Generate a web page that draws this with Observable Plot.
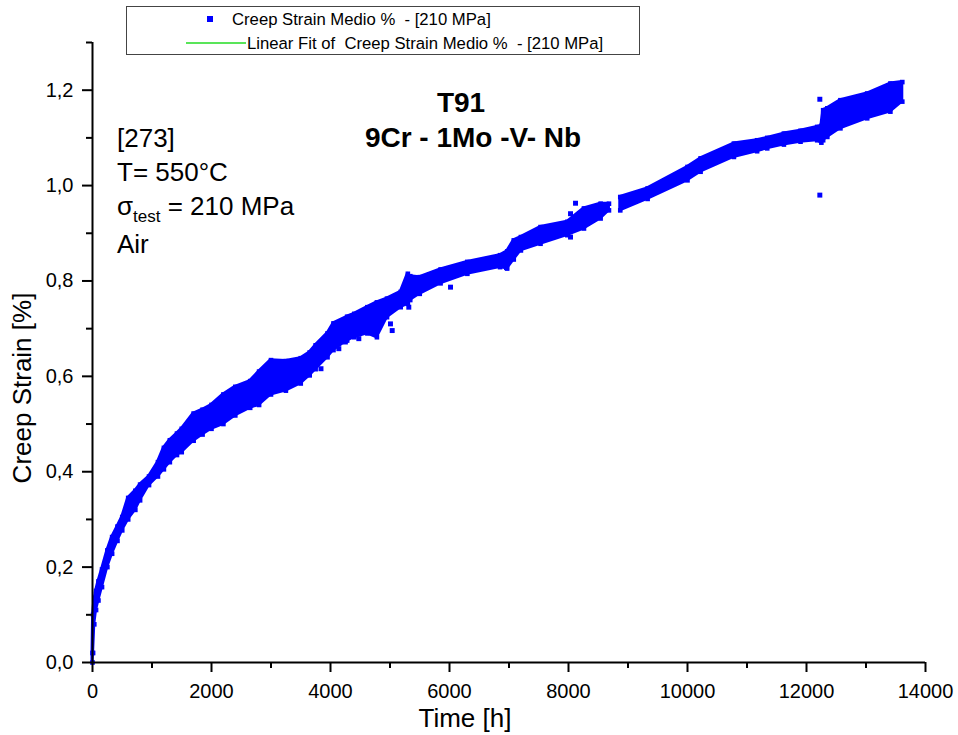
<!DOCTYPE html>
<html>
<head>
<meta charset="utf-8">
<script src="https://cdn.jsdelivr.net/npm/d3@7"></script>
<script src="https://cdn.jsdelivr.net/npm/@observablehq/plot@0.6"></script>
<style>
  html, body { margin: 0; padding: 0; background: white; }
  svg text { white-space: pre; }
</style>
</head>
<body>
<div id="chart"></div>
<script>
const times = [0, 10, 30, 60, 100, 160, 250, 330, 420, 500, 600, 720, 800, 950, 1100, 1200, 1300, 1420, 1500, 1700, 1850, 2000, 2200, 2400, 2650, 2800, 3000, 3250, 3500, 3650, 3750, 3950, 4050, 4280, 4400, 4620, 4780, 4950, 5180, 5300, 5340, 5500, 5850, 6300, 6850, 6970, 7080, 7200, 7530, 7980, 8260, 8540, 8680, 8780, 8870, 9330, 10000, 10220, 10780, 11170, 11340, 11620, 11900, 12180, 12250, 12280, 12350, 12570, 13020, 13410, 13610];
const lower = [0, 0.02, 0.08, 0.11, 0.13, 0.158, 0.20, 0.228, 0.255, 0.277, 0.30, 0.32, 0.34, 0.372, 0.39, 0.405, 0.42, 0.435, 0.441, 0.465, 0.478, 0.49, 0.50, 0.518, 0.534, 0.54, 0.562, 0.57, 0.585, 0.602, 0.615, 0.64, 0.655, 0.675, 0.682, 0.69, 0.682, 0.724, 0.745, 0.752, 0.76, 0.773, 0.795, 0.815, 0.829, 0.826, 0.845, 0.864, 0.878, 0.896, 0.91, 0.931, 0.948, null, 0.948, 0.972, 1.011, 1.029, 1.06, 1.072, 1.078, 1.086, 1.092, 1.095, 1.09, 1.095, 1.102, 1.12, 1.141, 1.155, 1.176];
const upper = [0.02, 0.10, 0.13, 0.15, 0.17, 0.195, 0.235, 0.263, 0.285, 0.305, 0.345, 0.36, 0.373, 0.39, 0.42, 0.45, 0.466, 0.48, 0.49, 0.522, 0.53, 0.54, 0.562, 0.578, 0.59, 0.61, 0.634, 0.632, 0.638, 0.65, 0.665, 0.69, 0.711, 0.725, 0.731, 0.745, 0.755, 0.763, 0.777, 0.815, 0.81, 0.808, 0.824, 0.84, 0.854, 0.862, 0.885, 0.892, 0.913, 0.924, 0.952, 0.962, 0.962, null, 0.976, 0.994, 1.039, 1.057, 1.088, 1.095, 1.10, 1.109, 1.115, 1.123, 1.125, 1.158, 1.162, 1.179, 1.193, 1.214, 1.217];

// Isolated points away from the band
const outlierTimes = [3840, 4140, 4250, 4476, 5008, 5037, 5316, 6017, 6958, 8034, 8034, 8118, 12224, 12224];
const outlierStrain = [0.616, 0.658, 0.672, 0.679, 0.710, 0.696, 0.745, 0.787, 0.828, 0.892, 0.941, 0.963, 1.181, 0.980];

const xMajor = [0, 2000, 4000, 6000, 8000, 10000, 12000, 14000];
const xMinor = [1000, 3000, 5000, 7000, 9000, 11000, 13000];
const yMajor = [0, 0.2, 0.4, 0.6, 0.8, 1.0, 1.2];
const yMinor = [0.1, 0.3, 0.5, 0.7, 0.9, 1.1, 1.3];

const band = times.map((t, i) => ({t, lo: lower[i], hi: upper[i]}));
const edges = band.filter(d => d.lo != null).flatMap(d => [{t: d.t, s: d.lo}, {t: d.t, s: d.hi}]);
const outliers = outlierTimes.map((t, i) => ({t, s: outlierStrain[i]}));

const blue = "#0000ff";
const font = "'Liberation Sans', Arial, Helvetica, sans-serif";

const chart = Plot.plot({
  width: 958,
  height: 735,
  marginLeft: 92,
  marginRight: 33,
  marginTop: 42,
  marginBottom: 73,
  style: {background: "white", fontFamily: font, fontSize: "20px", color: "black", overflow: "visible"},
  x: {domain: [0, 14000]},
  y: {domain: [0, 1.3]},
  marks: [
    Plot.areaY(band, {x: "t", y1: "lo", y2: "hi", fill: blue, stroke: blue, strokeWidth: 3, curve: "linear"}),
    Plot.dot(edges, {x: "t", y: "s", symbol: "square", r: 2.6, fill: blue}),
    Plot.dot(outliers, {x: "t", y: "s", symbol: "square", r: 2.8, fill: blue}),
    Plot.ruleX([0], {stroke: "black", strokeWidth: 2}),
    Plot.ruleY([0], {stroke: "black", strokeWidth: 2}),
    Plot.axisX({ticks: xMajor, tickSize: 10, tickPadding: 11, strokeWidth: 2, tickFormat: d => String(d), fontSize: 20, label: null}),
    Plot.axisX({ticks: xMinor, tickSize: 6, strokeWidth: 2, tickFormat: () => "", label: null}),
    Plot.axisY({ticks: yMajor, tickSize: 10, tickPadding: 9, strokeWidth: 2, tickFormat: d => d.toFixed(1).replace(".", ","), fontSize: 20, label: null}),
    Plot.axisY({ticks: yMinor, tickSize: 6, strokeWidth: 2, tickFormat: () => "", label: null})
  ]
});

document.getElementById("chart").appendChild(chart);

const svg = d3.select(chart);
const g = svg.append("g").attr("font-family", font).attr("fill", "black").attr("text-anchor", "start");

// Axis titles
g.append("text").attr("x", 465).attr("y", 727).attr("text-anchor", "middle").attr("font-size", 26).text("Time [h]");
g.append("text").attr("transform", "translate(31,388) rotate(-90)").attr("text-anchor", "middle").attr("font-size", 26).text("Creep Strain [%]");

// Title
g.append("text").attr("x", 461).attr("y", 112).attr("text-anchor", "middle").attr("font-size", 28).attr("font-weight", "bold").text("T91");
g.append("text").attr("x", 473).attr("y", 147).attr("text-anchor", "middle").attr("font-size", 28).attr("font-weight", "bold").text("9Cr - 1Mo -V- Nb");

// Test conditions
g.append("text").attr("x", 117).attr("y", 147).attr("font-size", 26).attr("text-anchor", "start").text("[273]");
g.append("text").attr("x", 117).attr("y", 181).attr("font-size", 26).attr("text-anchor", "start").text("T= 550°C");
const sig = g.append("text").attr("x", 117).attr("y", 215).attr("font-size", 26).attr("text-anchor", "start");
sig.append("tspan").text("σ");
sig.append("tspan").attr("font-size", 17).attr("dy", 7).text("test");
sig.append("tspan").attr("dy", -7).text(" = 210 MPa");
g.append("text").attr("x", 117).attr("y", 253).attr("font-size", 26).attr("text-anchor", "start").text("Air");

// Legend
const lg = svg.append("g").attr("font-family", font).attr("text-anchor", "start");
lg.append("rect").attr("x", 126.5).attr("y", 6.5).attr("width", 513).attr("height", 48).attr("fill", "white").attr("stroke", "#444").attr("stroke-width", 1);
lg.append("rect").attr("x", 207).attr("y", 16).attr("width", 6).attr("height", 6).attr("fill", blue);
lg.append("text").attr("x", 232).attr("y", 25).attr("font-size", 16.7).attr("fill", "black").attr("text-anchor", "start").text("Creep Strain Medio %  - [210 MPa]");
lg.append("line").attr("x1", 186).attr("x2", 246).attr("y1", 43).attr("y2", 43).attr("stroke", "#22dd22").attr("stroke-width", 1.5);
lg.append("text").attr("x", 247).attr("y", 49).attr("font-size", 16.7).attr("fill", "black").attr("text-anchor", "start").text("Linear Fit of  Creep Strain Medio %  - [210 MPa]");
</script>
</body>
</html>
